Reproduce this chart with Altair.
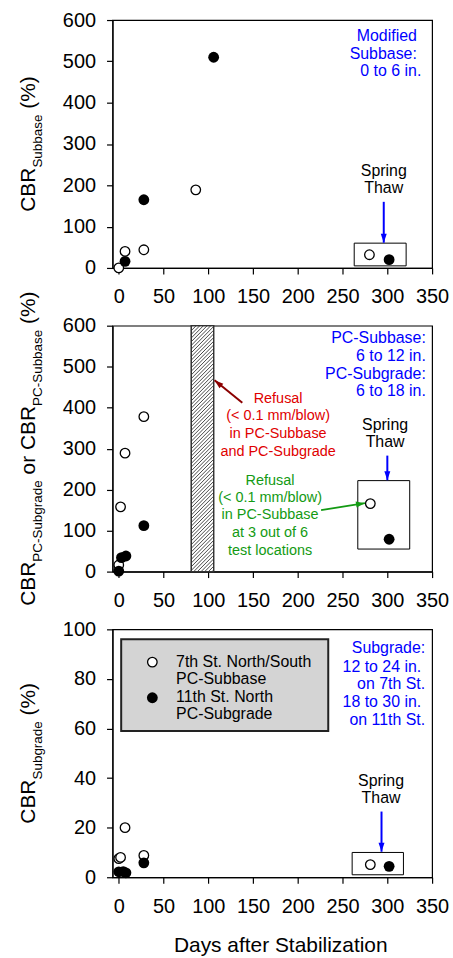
import altair as alt
import pandas as pd

FONT = "Liberation Sans"

# ---------------- data ----------------
x_ticks = [0, 50, 100, 150, 200, 250, 300, 350]
y_ticks_cbr = [0, 100, 200, 300, 400, 500, 600]
y_ticks_sg = [0, 20, 40, 60, 80, 100]

# Panel 1: Modified Subbase
p1_open_days = [0, 7, 28, 86, 280]
p1_open_cbr = [0, 40, 44, 189, 32]
p1_fill_days = [7, 28, 106, 302]
p1_fill_cbr = [16, 165, 510, 20]

# Panel 2: PC-Subbase / PC-Subgrade
p2_open_days = [0, 2, 7, 28, 281]
p2_open_cbr = [16, 158, 289, 378, 166]
p2_fill_days = [0, 3, 8, 28, 302]
p2_fill_cbr = [1, 34, 38, 112, 79]

# Panel 3: Subgrade
p3_open_days = [0, 2, 7, 28, 281]
p3_open_cbr = [7.5, 8.0, 20.0, 8.8, 5.1]
p3_fill_days = [0, 5, 8, 28, 302]
p3_fill_cbr = [2.2, 2.3, 1.8, 5.8, 4.4]

legend_labels = ["7th St. North/South", "PC-Subbase", "11th St. North", "PC-Subgrade"]

# ---------------- styling / layout ----------------
W = 321
H1, H2, H3 = 249, 247, 249
XDOM = [-7, 350]
BLUE = "#0000ff"
RED = "#e00000"
DARKRED = "#8b0000"
GREEN = "#139a13"
OPEN_SIZE, FILL_SIZE = 92, 118

AW = {'C': .722, 'B': .667, 'R': .722, 'S': .667, 'u': .556, 'b': .556, 'a': .556,
      's': .5, 'e': .556, 'g': .556, 'r': .333, 'd': .556, 'P': .667, '-': .333,
      'o': .556, ' ': .278, '(': .333, '%': .889, ')': .333}


def tw(s, fs):
    return sum(AW.get(ch, 0.556) for ch in s) * fs


def xaxis():
    return alt.Axis(values=x_ticks, title=None, grid=False, tickSize=6, labelPadding=13,
                    labelFontSize=20, labelFont=FONT, labelColor="black", domainColor="black",
                    tickColor="black", domainWidth=1.2, tickWidth=1.2, format="d",
                    labelOverlap=False, labelFlush=False)


def yaxis(vals):
    return alt.Axis(values=vals, title=None, grid=False, tickSize=6, labelPadding=11,
                    labelFontSize=20, labelFont=FONT, labelColor="black", domainColor="black",
                    tickColor="black", domainWidth=1.2, tickWidth=1.2, format="d",
                    labelOverlap=False, labelFlush=False)


def enc_xy(ydom, yvals):
    return dict(
        x=alt.X("days:Q", scale=alt.Scale(domain=XDOM, nice=False, zero=False), axis=xaxis()),
        y=alt.Y("cbr:Q", scale=alt.Scale(domain=ydom, nice=False, zero=False), axis=yaxis(yvals)),
    )


def title_layer(pieces, height):
    """Rotated y title built from normal and subscript pieces (SVG drops leading spaces,
    so a leading space is turned into an explicit gap)."""
    rows = []
    sizes = [13.5 if sub else 21 for _, sub in pieces]
    total = sum(tw(t, fs) for (t, _), fs in zip(pieces, sizes))
    y = height / 2 + total / 2
    for (t, sub), fs in zip(pieces, sizes):
        if t.startswith(" "):
            y -= tw(" ", fs)
            t = t.lstrip(" ")
        rows.append({"t": t, "px": -71 if sub else -78, "py": y, "fs": fs})
        y -= tw(t, fs)
    return alt.Chart(pd.DataFrame(rows)).mark_text(
        angle=270, align="left", baseline="alphabetic", font=FONT, color="black"
    ).encode(
        x=alt.X("px:Q", scale=None), y=alt.Y("py:Q", scale=None),
        text="t:N", size=alt.Size("fs:Q", scale=None),
    )


def text_layers(rows, ydom, yvals):
    df = pd.DataFrame(rows, columns=["t", "days", "cbr", "al", "c", "fs"])
    layers = []
    for al in ["left", "center", "right"]:
        sub = df[df["al"] == al]
        if len(sub) == 0:
            continue
        layers.append(alt.Chart(sub).mark_text(align=al, baseline="middle", font=FONT).encode(
            text="t:N", color=alt.Color("c:N", scale=None), size=alt.Size("fs:Q", scale=None),
            **enc_xy(ydom, yvals)))
    return layers


def box_layer(rows, ydom, yvals, fill="transparent", stroke="black", sw=1.0):
    df = pd.DataFrame(rows, columns=["days", "days2", "cbr", "cbr2"])
    return alt.Chart(df).mark_rect(fill=fill, stroke=stroke, strokeWidth=sw).encode(
        x2="days2:Q", y2="cbr2:Q", **enc_xy(ydom, yvals))


def arrow_layers(rows, ydom, yvals):
    df = pd.DataFrame(rows, columns=["days", "cbr", "days2", "cbr2", "c", "sw", "ang"])
    line = alt.Chart(df).mark_rule().encode(
        x2="days2:Q", y2="cbr2:Q", color=alt.Color("c:N", scale=None),
        strokeWidth=alt.StrokeWidth("sw:Q", scale=None), **enc_xy(ydom, yvals))
    heads = pd.DataFrame({"days": df["days2"], "cbr": df["cbr2"], "c": df["c"], "ang": df["ang"]})
    head = alt.Chart(heads).mark_point(
        shape="M0,0L-0.6,1.8L0.6,1.8Z", filled=True, size=100, opacity=1, strokeWidth=0
    ).encode(color=alt.Color("c:N", scale=None), angle=alt.Angle("ang:Q", scale=None),
             **enc_xy(ydom, yvals))
    return [line, head]


def point_layers(od, oc, fd, fc, ydom, yvals):
    o = alt.Chart(pd.DataFrame({"days": od, "cbr": oc})).mark_circle(
        size=OPEN_SIZE, fill="white", stroke="black", strokeWidth=1.3, opacity=1).encode(**enc_xy(ydom, yvals))
    f = alt.Chart(pd.DataFrame({"days": fd, "cbr": fc})).mark_circle(
        size=FILL_SIZE, color="black", opacity=1).encode(**enc_xy(ydom, yvals))
    return [o, f]


# ---------------- panel 1 ----------------
d1, v1 = [0, 600], y_ticks_cbr
p1_layers = [
    box_layer([[263, 321, 5, 60]], d1, v1),
    *point_layers(p1_open_days, p1_open_cbr, p1_fill_days, p1_fill_cbr, d1, v1),
    *arrow_layers([[296, 160, 296, 61, BLUE, 2, 180]], d1, v1),
    *text_layers([
        ["Modified", 333, 561, "right", BLUE, 16],
        ["Subbase:", 333, 518, "right", BLUE, 16],
        ["0 to 6 in.", 338, 476, "right", BLUE, 16],
        ["Spring", 296, 235, "center", "black", 16],
        ["Thaw", 296, 193, "center", "black", 16],
    ], d1, v1),
    title_layer([("CBR", False), ("Subbase", True), (" (%)", False)], H1),
]
panel1 = alt.layer(*p1_layers).properties(width=W, height=H1)

# ---------------- panel 2 ----------------
d2, v2 = [0, 600], y_ticks_cbr
hatch = pd.DataFrame({"cbr": list(range(-60, 600, 9))})
hatch["cbr2"] = hatch["cbr"] + 55
hatch["days"] = 81
hatch["days2"] = 106
p2_layers = [
    box_layer([[81, 106, 0, 600]], d2, v2, fill="white", stroke="#333333", sw=1.2),
    alt.Chart(hatch).mark_rule(clip=True, color="#333333", strokeWidth=0.9).encode(
        x2="days2:Q", y2="cbr2:Q", **enc_xy(d2, v2)),
    box_layer([[81, 106, 0, 600]], d2, v2, fill="transparent", stroke="#333333", sw=1.2),
    box_layer([[267, 325, 55, 222]], d2, v2),
    *point_layers(p2_open_days, p2_open_cbr, p2_fill_days, p2_fill_cbr, d2, v2),
    *arrow_layers([
        [300, 283, 300, 223, BLUE, 2, 180],
        [138, 412, 107, 467, DARKRED, 2, 310],
        [226, 150, 275, 167, GREEN, 1.8, 81],
    ], d2, v2),
    *text_layers([
        ["PC-Subbase:", 343, 569, "right", BLUE, 16],
        ["6 to 12 in.", 343, 526, "right", BLUE, 16],
        ["PC-Subgrade:", 343, 483, "right", BLUE, 16],
        ["6 to 18 in.", 343, 440, "right", BLUE, 16],
        ["Spring", 297.5, 358, "center", "black", 16],
        ["Thaw", 297.5, 317, "center", "black", 16],
        ["Refusal", 178, 422, "center", RED, 14.5],
        ["(< 0.1 mm/blow)", 178, 379, "center", RED, 14.5],
        ["in PC-Subbase", 178, 336, "center", RED, 14.5],
        ["and PC-Subgrade", 178, 292, "center", RED, 14.5],
        ["Refusal", 169, 222, "center", GREEN, 14.5],
        ["(< 0.1 mm/blow)", 169, 179, "center", GREEN, 14.5],
        ["in PC-Subbase", 169, 137, "center", GREEN, 14.5],
        ["at 3 out of 6", 169, 94, "center", GREEN, 14.5],
        ["test locations", 169, 51, "center", GREEN, 14.5],
    ], d2, v2),
    title_layer([("CBR", False), ("PC-Subgrade", True), (" or CBR", False),
                 ("PC-Subbase", True), (" (%)", False)], H2),
]
panel2 = alt.layer(*p2_layers).properties(width=W, height=H2)

# ---------------- panel 3 ----------------
d3, v3 = [0, 100], y_ticks_sg
leg_pts = pd.DataFrame({"days": [37.5, 37.5], "cbr": [86.8, 72.4]})
p3_layers = [
    box_layer([[2.7, 234, 59, 96]], d3, v3, fill="#d4d4d4", stroke="#222222", sw=2),
    alt.Chart(leg_pts.iloc[[0]]).mark_circle(size=OPEN_SIZE, fill="white", stroke="black",
                                             strokeWidth=1.3, opacity=1).encode(**enc_xy(d3, v3)),
    alt.Chart(leg_pts.iloc[[1]]).mark_circle(size=FILL_SIZE, color="black", opacity=1).encode(**enc_xy(d3, v3)),
    box_layer([[260.7, 318, 1, 10]], d3, v3),
    *point_layers(p3_open_days, p3_open_cbr, p3_fill_days, p3_fill_cbr, d3, v3),
    *arrow_layers([[293.5, 26.5, 293.5, 10.3, BLUE, 2, 180]], d3, v3),
    *text_layers([
        ["Subgrade:", 342.3, 92.3, "right", BLUE, 16],
        ["12 to 24 in.", 250, 84.9, "left", BLUE, 16],
        ["on 7th St.", 342.3, 77.9, "right", BLUE, 16],
        ["18 to 30 in.", 250, 70.8, "left", BLUE, 16],
        ["on 11th St.", 342.3, 63.6, "right", BLUE, 16],
        ["Spring", 293, 38.8, "center", "black", 16],
        ["Thaw", 293, 31.9, "center", "black", 16],
        [legend_labels[0], 64, 86.8, "left", "black", 16],
        [legend_labels[1], 64, 80.0, "left", "black", 16],
        [legend_labels[2], 64, 72.6, "left", "black", 16],
        [legend_labels[3], 64, 65.8, "left", "black", 16],
    ], d3, v3),
    title_layer([("CBR", False), ("Subgrade", True), (" (%)", False)], H3),
    alt.Chart(pd.DataFrame({"t": ["Days after Stabilization"], "px": [169], "py": [318]})).mark_text(
        align="center", baseline="middle", font=FONT, fontSize=21, color="black").encode(
        x=alt.X("px:Q", scale=None), y=alt.Y("py:Q", scale=None), text="t:N"),
]
panel3 = alt.layer(*p3_layers).properties(width=W, height=H3)

chart = alt.vconcat(panel1, panel2, panel3, spacing=58, bounds="flush").properties(
    padding={"left": 17, "top": 7, "right": 3, "bottom": 3}
).configure_view(stroke="black", strokeWidth=1.2)

chart.save("out.html", embed_options={"renderer": "svg", "actions": False})
